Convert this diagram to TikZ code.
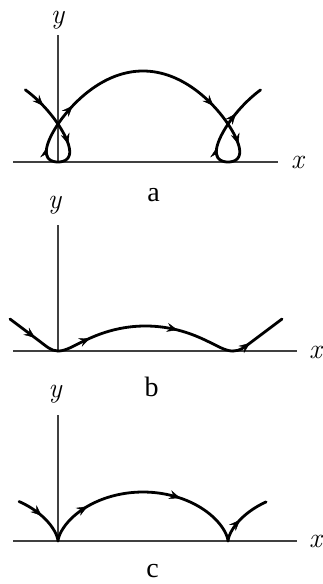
\documentclass[tikz,border=0pt]{standalone}
\usepackage{fontspec}
\newfontfamily\capfont{Liberation Serif}
\usetikzlibrary{arrows.meta,decorations.markings}
\begin{document}
\begin{tikzpicture}[x=1pt,y=-1pt,
  declare function={
    ax(\t)=58+27.06*\t-46*sin(\t r);
    ay(\t)=162-(19.3*(1-cos(\t r))+13.1*(1-cos(\t r))^2);
    bx(\t)=58+27.85*\t-12.5*sin(\t r);
    by(\t)=351-12.5*(1-cos(\t r));
    cx(\t)=58+27.06*(\t-sin(\t r));
    cy(\t)=541-24.49*(1-cos(\t r));
  },
  axis/.style={line width=1.1pt, black!75},
  crv/.style={line width=2.8pt, line cap=round, line join=round},
  tipdec/.style={postaction={decorate}, decoration={markings,
      mark=at position 0.5 with {\arrow{Stealth[length=11pt,width=9pt,inset=4pt]}}}},
  lab/.style={font=\itshape\fontsize{28}{28}\selectfont, inner sep=0pt, anchor=base,
      text height=0.45em, text depth=0.2em},
  captext/.style={font=\capfont\fontsize{28}{28}\selectfont, inner sep=0pt, anchor=base,
      text height=0.68em, text depth=0em}]
\useasboundingbox (0,0) rectangle (322,584);
\newcommand\tipA[1]{\path[tipdec] ({ax(#1-0.04)},{ay(#1-0.04)}) -- ({ax(#1+0.04)},{ay(#1+0.04)});}
\newcommand\tipB[1]{\path[tipdec] ({bx(#1-0.04)},{by(#1-0.04)}) -- ({bx(#1+0.04)},{by(#1+0.04)});}
\newcommand\tipC[1]{\path[tipdec] ({cx(#1-0.04)},{cy(#1-0.04)}) -- ({cx(#1+0.04)},{cy(#1+0.04)});}

% ---------- panel a ----------
\coordinate (Oa) at (58,162);
\coordinate (XaL) at (13,162);
\coordinate (XaR) at (278,162);
\coordinate (Ya) at (58,35);
\draw[axis] (XaL) -- (XaR);
\draw[axis] (Oa) -- (Ya);
\node[lab] (ya) at (57.5,23) {y};
\node[lab] (xa) at (297.5,168) {x};
\node[captext] (la) at (153.5,201) {a};
\draw[crv] plot[domain=-2.38:2*pi+2.38, samples=300, variable=\t] ({ax(\t)},{ay(\t)});
\tipA{-2.05}
\tipA{-1.2}
\tipA{1.1}
\tipA{2.05}
\tipA{2*pi-2.05}
\tipA{2*pi-1.2}
\tipA{2*pi+1.1}
\tipA{2*pi+1.9}

% ---------- panel b ----------
\coordinate (Ob) at (58,351);
\coordinate (XbL) at (13,351);
\coordinate (XbR) at (297,351);
\coordinate (Yb) at (58,225);
\draw[axis] (XbL) -- (XbR);
\draw[axis] (Ob) -- (Yb);
\node[lab] (yb) at (54.5,208) {y};
\node[lab] (xb) at (315.5,358) {x};
\node[captext] (lb) at (151.5,396) {b};
\coordinate (b0) at (10,319);
\coordinate (b1) at (38,340);
\coordinate (b2) at (233,351);
\coordinate (b3) at (250,343);
\coordinate (b4) at (282,319);
\draw[crv] (b0) -- (b1) .. controls (46,346) and (51,351) .. (Ob);
\draw[crv] plot[domain=0:2*pi, samples=150, variable=\t] ({bx(\t)},{by(\t)});
\draw[crv] (b2) .. controls (240,351) and (244,347.5) .. (b3) -- (b4);
\path[tipdec] (32,335.5) -- (38,340);
\tipB{1.6}
\tipB{3.97}
\path[tipdec] (247,345.25) -- (253,340.75);

% ---------- panel c ----------
\coordinate (Oc) at (58,541);
\coordinate (XcL) at (13,541);
\coordinate (XcR) at (297,541);
\coordinate (Yc) at (58,415);
\draw[axis] (XcL) -- (XcR);
\draw[axis] (Oc) -- (Yc);
\node[lab] (yc) at (55,397) {y};
\node[lab] (xc) at (315.5,547) {x};
\node[captext] (lc) at (152.5,577) {c};
\draw[crv] plot[domain=-2.23:0, samples=80, variable=\t] ({cx(\t)},{cy(\t)});
\draw[crv] plot[domain=0:2*pi, samples=200, variable=\t] ({cx(\t)},{cy(\t)});
\draw[crv] plot[domain=2*pi:2*pi+2.21, samples=80, variable=\t] ({cx(\t)},{cy(\t)});
\tipC{-1.6}
\tipC{2.0}
\tipC{3.86}
\tipC{2*pi+1.43}
\end{tikzpicture}
\end{document}
